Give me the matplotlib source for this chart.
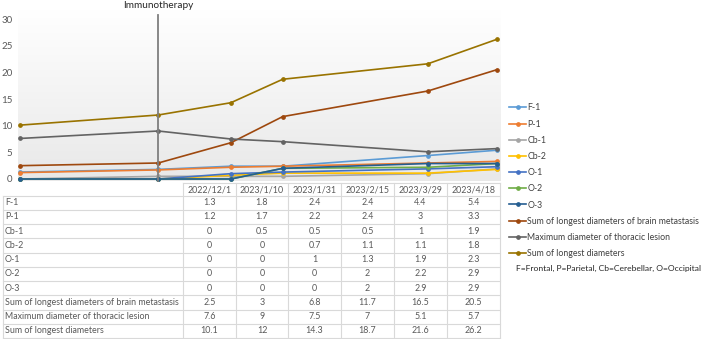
import matplotlib
matplotlib.use("Agg")
import matplotlib.pyplot as plt
import matplotlib.dates as mdates
from matplotlib.lines import Line2D
import numpy as np
import pandas as pd

plt.rcParams['font.family'] = ['Lato', 'DejaVu Sans']

dates = ['2022/12/1', '2023/1/10', '2023/1/31', '2023/2/15', '2023/3/29', '2023/4/18']
series_names = ['F-1', 'P-1', 'Cb-1', 'Cb-2', 'O-1', 'O-2', 'O-3',
                'Sum of longest diameters of brain metastasis',
                'Maximum diameter of thoracic lesion',
                'Sum of longest diameters']
F1 = [1.3, 1.8, 2.4, 2.4, 4.4, 5.4]
P1 = [1.2, 1.7, 2.2, 2.4, 3, 3.3]
Cb1 = [0, 0.5, 0.5, 0.5, 1, 1.9]
Cb2 = [0, 0, 0.7, 1.1, 1.1, 1.8]
O1 = [0, 0, 1, 1.3, 1.9, 2.3]
O2 = [0, 0, 0, 2, 2.2, 2.9]
O3 = [0, 0, 0, 2, 2.9, 2.9]
brain_sum = [2.5, 3, 6.8, 11.7, 16.5, 20.5]
thoracic_max = [7.6, 9, 7.5, 7, 5.1, 5.7]
total_sum = [10.1, 12, 14.3, 18.7, 21.6, 26.2]
values = [F1, P1, Cb1, Cb2, O1, O2, O3, brain_sum, thoracic_max, total_sum]
colors = ['#5B9BD5', '#ED7D31', '#A5A5A5', '#FFC000', '#4472C4', '#70AD47',
          '#255E91', '#9E480E', '#636363', '#997300']
yticks = [0, 5, 10, 15, 20, 25, 30]
event_date = '2023/1/10'
event_label = 'Immunotherapy'
note = 'F=Frontal, P=Parietal, Cb=Cerebellar, O=Occipital'

W, H = 708, 339
fig = plt.figure(figsize=(W / 100, H / 100), dpi=100)

def px_axes(x0, y0, x1, y1):
    return fig.add_axes([x0 / W, 1 - y1 / H, (x1 - x0) / W, (y1 - y0) / H])

ax = px_axes(18, 10, 500, 181)
x = mdates.date2num(pd.to_datetime(dates, format='%Y/%m/%d'))
d0 = x[0]
span = x[-1] - x[0]
ppd = 477 / span
ax.set_xlim(d0 - 2 / ppd, d0 + 480 / ppd)
ax.set_ylim(-(181 - 179) / 5.333, 30 + (19 - 10) / 5.333)

# gradient background
grad = np.linspace(0, 1, 256).reshape(-1, 1)
top = np.array([1.0, 1.0, 1.0])
bot = np.array([0.91, 0.91, 0.91])
img = top * (1 - grad[..., None]) + bot * grad[..., None]
ax.imshow(img, extent=[0, 1, 0, 1], transform=ax.transAxes, aspect='auto', zorder=0)

for name, vals, c in zip(series_names, values, colors):
    ax.plot(x, vals, color=c, lw=1.2, marker='o', ms=2.4, label=name, zorder=3)

xe = mdates.date2num(pd.to_datetime(event_date, format='%Y/%m/%d'))
ax.plot([xe, xe], [-0.4, 30.8], color='#7f7f7f', lw=1.3, clip_on=False, zorder=4)
ax.text(xe, 31.6, event_label, ha='center', va='bottom', fontsize=7.2, color='#262626', clip_on=False)

for s in ax.spines.values():
    s.set_visible(False)
ax.set_xticks([])
ax.set_yticks(yticks)
ax.tick_params(axis='y', length=0, pad=4, labelsize=7, labelcolor='#595959')

# table
tab = fig.add_axes([0, 0, 1, 1])
tab.set_xlim(0, W)
tab.set_ylim(H, 0)
tab.axis('off')
col_edges = [183, 236, 288, 341, 394, 447, 500]
label_left = 3
row_top0 = 183
row_h = 14.25
body_top = 195.5
gc = '#d9d9d9'
fs_t = 6.4
tab.plot([col_edges[0], col_edges[-1]], [row_top0, row_top0], color=gc, lw=0.8)
for i, d in enumerate(dates):
    cx = (col_edges[i] + col_edges[i + 1]) / 2
    tab.text(cx, (row_top0 + body_top) / 2 + 0.5, d, ha='center', va='center', fontsize=fs_t, color='#595959')
for e in col_edges:
    tab.plot([e, e], [row_top0, H + 5], color=gc, lw=0.8)
tab.plot([label_left, label_left], [body_top, H + 5], color=gc, lw=0.8)
for r in range(len(series_names) + 1):
    yy = body_top + r * row_h
    tab.plot([label_left, col_edges[-1]], [yy, yy], color=gc, lw=0.8)
for r, (name, vals) in enumerate(zip(series_names, values)):
    cy = body_top + (r + 0.5) * row_h
    tab.text(label_left + 2, cy, name, ha='left', va='center', fontsize=fs_t, color='#595959')
    for i, v in enumerate(vals):
        cx = (col_edges[i] + col_edges[i + 1]) / 2
        tab.text(cx, cy, f'{v:g}', ha='center', va='center', fontsize=fs_t, color='#595959')

# legend
handles = [Line2D([0], [0], color=c, lw=1.2, marker='o', ms=2.4) for c in colors]
leg = fig.legend(handles, series_names, loc='upper left',
                 bbox_to_anchor=(509 / W, 1 - 103.5 / H), frameon=False,
                 fontsize=6.3, handlelength=1.95, handletextpad=0.15,
                 labelspacing=0.82, borderpad=0, borderaxespad=0)
for t in leg.get_texts():
    t.set_color('#404040')
fig.text(516 / W, 1 - 268 / H, note, ha='left', va='center', fontsize=6.1, color='#262626')

fig.savefig('out.png', dpi=100)
